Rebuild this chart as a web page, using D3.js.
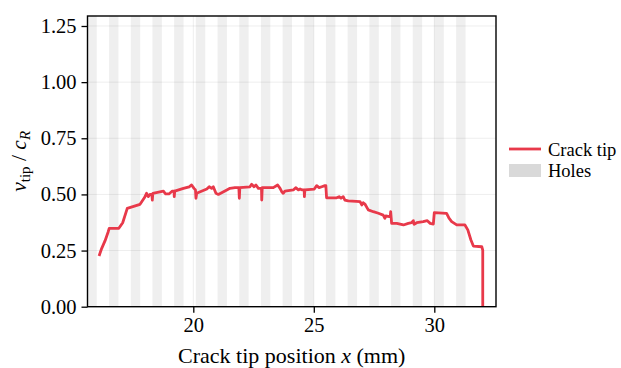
<!DOCTYPE html>
<html>
<head>
<meta charset="utf-8">
<script src="https://cdn.jsdelivr.net/npm/d3@7"></script>
<style>
  body { margin: 0; background: #fff; }
  svg { font-family: "Liberation Serif", "DejaVu Serif", serif; }
</style>
</head>
<body>
<div id="chart"></div>
<script>
// crack tip position (mm) and normalised tip speed
var tipX = [16.09, 16.20, 16.34, 16.47, 16.51, 16.91, 17.07, 17.26, 17.79, 17.97, 18.06, 18.13, 18.20, 18.28, 18.30, 18.32,
  18.76, 18.85, 18.99, 19.13, 19.20, 19.21, 19.23, 19.59, 19.83, 19.93, 20.03, 20.09, 20.11, 20.14, 20.56, 20.66,
  20.76, 20.83, 20.94, 21.04, 21.39, 21.52, 21.73, 21.89, 21.91, 21.93, 22.35, 22.42, 22.52, 22.60, 22.70, 22.83,
  22.84, 22.86, 23.32, 23.50, 23.60, 23.67, 23.73, 23.80, 24.15, 24.25, 24.36, 24.43, 24.52, 24.60, 24.61, 24.63,
  25.02, 25.12, 25.22, 25.33, 25.46, 25.50, 25.53, 25.95, 26.05, 26.13, 26.22, 26.29, 26.43, 26.92, 26.99, 27.05,
  27.12, 27.26, 27.47, 27.68, 27.88, 27.95, 27.99, 28.13, 28.17, 28.19, 28.23, 28.44, 28.72, 28.92, 29.06, 29.13,
  29.16, 29.27, 29.54, 29.71, 29.83, 29.96, 30.00, 30.51, 30.61, 30.72, 30.93, 31.27, 31.39, 31.52, 31.62, 31.97,
  32.01, 32.01];
var tipV = [0.226, 0.260, 0.294, 0.334, 0.349, 0.349, 0.374, 0.438, 0.456, 0.485, 0.505, 0.490, 0.500, 0.500, 0.475, 0.505,
  0.515, 0.502, 0.502, 0.515, 0.515, 0.490, 0.515, 0.527, 0.534, 0.542, 0.527, 0.520, 0.483, 0.505, 0.524, 0.534,
  0.527, 0.534, 0.505, 0.500, 0.520, 0.527, 0.530, 0.530, 0.483, 0.530, 0.534, 0.545, 0.534, 0.542, 0.527, 0.527,
  0.475, 0.530, 0.530, 0.542, 0.527, 0.512, 0.505, 0.515, 0.520, 0.530, 0.520, 0.524, 0.520, 0.520, 0.490, 0.520,
  0.524, 0.539, 0.530, 0.534, 0.539, 0.539, 0.485, 0.485, 0.490, 0.483, 0.490, 0.475, 0.471, 0.468, 0.453, 0.463,
  0.457, 0.431, 0.423, 0.416, 0.408, 0.394, 0.404, 0.401, 0.401, 0.423, 0.371, 0.371, 0.364, 0.371, 0.374, 0.383,
  0.367, 0.374, 0.379, 0.383, 0.371, 0.368, 0.419, 0.416, 0.394, 0.379, 0.364, 0.364, 0.342, 0.297, 0.270, 0.267,
  0.252, 0.0];

// hole centres (mm) and hole width
var holeX = [15.8, 16.7, 17.6, 18.5, 19.4, 20.3, 21.2, 22.1, 23.0, 23.9, 24.8, 25.7, 26.6, 27.5, 28.4, 29.3, 30.2, 31.1];
var holeW = 0.39;

var xTicks = [20, 25, 30];
var yTicks = [0, 0.25, 0.5, 0.75, 1.0, 1.25];

var W = 621, H = 368;
var margin = { left: 87.5, top: 16, right: 125, bottom: 61.3 };
var width = W - margin.left - margin.right;
var height = H - margin.top - margin.bottom;

var svg = d3.select("#chart").append("svg")
  .attr("width", W)
  .attr("height", H);

var g = svg.append("g")
  .attr("transform", "translate(" + margin.left + "," + margin.top + ")");

var x = d3.scaleLinear().domain([15.61, 32.56]).range([0, width]);
var y = d3.scaleLinear().domain([0, 1.2945]).range([height, 0]);

g.append("clipPath").attr("id", "clip")
  .append("rect").attr("width", width).attr("height", height);

var panel = g.append("g").attr("clip-path", "url(#clip)");

// holes
panel.selectAll(".hole")
  .data(holeX)
  .enter().append("rect")
  .attr("class", "hole")
  .attr("x", function(d) { return x(d - holeW / 2); })
  .attr("y", 0)
  .attr("width", function(d) { return x(d + holeW / 2) - x(d - holeW / 2); })
  .attr("height", height)
  .attr("fill", "#d9d9d9")
  .attr("fill-opacity", 0.42);

// grid
panel.selectAll(".hgrid")
  .data(yTicks)
  .enter().append("line")
  .attr("x1", 0).attr("x2", width)
  .attr("y1", function(d) { return y(d); })
  .attr("y2", function(d) { return y(d); })
  .attr("stroke", "#000").attr("stroke-opacity", 0.07).attr("stroke-width", 1);

panel.selectAll(".vgrid")
  .data(xTicks)
  .enter().append("line")
  .attr("y1", 0).attr("y2", height)
  .attr("x1", function(d) { return x(d); })
  .attr("x2", function(d) { return x(d); })
  .attr("stroke", "#000").attr("stroke-opacity", 0.07).attr("stroke-width", 1);

// crack tip line
var line = d3.line()
  .x(function(d, i) { return x(tipX[i]); })
  .y(function(d, i) { return y(tipV[i]); });

panel.append("path")
  .datum(tipX)
  .attr("d", line)
  .attr("fill", "none")
  .attr("stroke", "#e8394a")
  .attr("stroke-width", 2.8)
  .attr("stroke-linejoin", "round");

// axes
var xAxis = g.append("g")
  .attr("transform", "translate(0," + height + ")")
  .call(d3.axisBottom(x).tickValues(xTicks).tickSize(6).tickPadding(5).tickFormat(d3.format("d")));

var yAxis = g.append("g")
  .call(d3.axisLeft(y).tickValues(yTicks).tickSize(6).tickPadding(5).tickFormat(d3.format(".2f")));

[xAxis, yAxis].forEach(function(a) {
  a.select(".domain").remove();
  a.selectAll(".tick line").attr("stroke", "#000").attr("stroke-width", 1.3);
  a.selectAll(".tick text")
    .attr("fill", "#000")
    .style("font-family", "Liberation Serif, serif")
    .style("font-size", "20.5px");
});

// frame
g.append("rect")
  .attr("width", width).attr("height", height)
  .attr("fill", "none").attr("stroke", "#000").attr("stroke-width", 1.4);

// axis titles
svg.append("text")
  .attr("x", margin.left + width / 2)
  .attr("y", 363)
  .attr("text-anchor", "middle")
  .style("font-size", "22px")
  .html('Crack tip position <tspan font-style="italic">x</tspan> (mm)');

var yt = svg.append("text")
  .attr("transform", "translate(26," + (margin.top + height / 2) + ") rotate(-90)")
  .attr("text-anchor", "middle")
  .style("font-size", "21.5px");
yt.append("tspan").attr("font-style", "italic").text("v");
yt.append("tspan").attr("font-size", "15px").attr("dy", 4).text("tip");
yt.append("tspan").attr("dy", -4).text(" / ");
yt.append("tspan").attr("font-style", "italic").text("c");
yt.append("tspan").attr("font-style", "italic").attr("font-size", "15px").attr("dy", 4).text("R");

// legend
var lg = svg.append("g").attr("transform", "translate(509,149)");
lg.append("line")
  .attr("x1", 0).attr("x2", 32).attr("y1", 0).attr("y2", 0)
  .attr("stroke", "#e8394a").attr("stroke-width", 2.8);
lg.append("text").attr("x", 39).attr("y", 6.5).style("font-size", "18.5px").text("Crack tip");
lg.append("rect")
  .attr("x", 0).attr("y", 15).attr("width", 32).attr("height", 13)
  .attr("fill", "#d9d9d9");
lg.append("text").attr("x", 39).attr("y", 28).style("font-size", "18.5px").text("Holes");
</script>
</body>
</html>
